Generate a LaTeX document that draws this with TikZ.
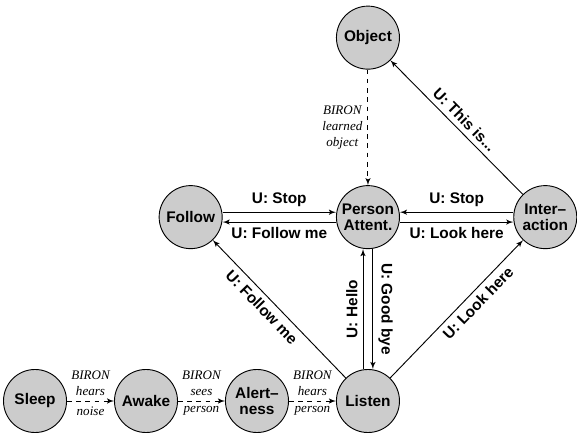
\documentclass[tikz,border=0pt]{standalone}
\usepackage{fontspec}
\setsansfont{Liberation Sans}
\newfontfamily\eventfont{Liberation Serif}
\usetikzlibrary{arrows, positioning}

\begin{document}
\begin{tikzpicture}[->, >=latex', auto, semithick, node distance=2.535cm]
        \tikzstyle{state}=[circle, fill=black!20, draw=black, text=black, minimum size=1.44cm, inner sep=0pt, align=center, font=\sffamily\bfseries\fontsize{10}{10}\selectfont]
        \tikzstyle{said}=[font=\sffamily\bfseries\fontsize{10}{12}\selectfont]
        \tikzstyle{event}=[font=\eventfont\itshape\fontsize{8.5}{10.5}\selectfont, align=center]

        \useasboundingbox (-0.8,-0.78) rectangle (12.38,9.16);

        \node[state]    (S)                     {Sleep};
        \node[state]    (A) [right of=S] {Awake};
        \node[state]    (N) [right of=A] {Alert--\\ness};
        \node[state]    (L) [right of=N] {Listen};
        \node[state]    (P) [above of=L, node distance=4.2cm] {Person\\Attent.};
        \node[state]    (F) [left of=P, node distance=4.05cm] {Follow};
        \node[state]    (I) [right of=P, node distance=4.05cm] {Inter--\\action};
        \node[state]    (O) [above of=P, node distance=4.1cm] {Object};

        \path[dashed] (S) edge node[event, above] {BIRON\\hears} node[event, below] {noise} (A)
                  (A) edge node[event, above] {BIRON\\sees} node[event, below] {person} (N)
                  (N) edge node[event, above] {BIRON\\hears} node[event, below] {person} (L)
                  (O) edge node[event, left] {BIRON\\learned\\object} (P);

        \path ([yshift=3.2pt]F.east) edge node[said, above] {U: Stop} ([yshift=3.2pt]P.west)
                  ([yshift=-3.2pt]P.west) edge node[said, below] {U: Follow me} ([yshift=-3.2pt]F.east)
                  ([yshift=3.2pt]I.west) edge node[said, above] {U: Stop} ([yshift=3.2pt]P.east)
                  ([yshift=-3.2pt]P.east) edge node[said, below] {U: Look here} ([yshift=-3.2pt]I.west)
                  ([xshift=-3.2pt]L.north) edge node[said, sloped, above] {U: Hello} ([xshift=-3.2pt]P.south)
                  ([xshift=3.2pt]P.south) edge node[said, sloped, above] {U: Good bye} ([xshift=3.2pt]L.north)
                  (L) edge node[said, sloped, below, pos=0.57] {U: Follow me} (F) % back to following
                  (L) edge node[said, sloped, below, pos=0.6] {U: Look here} (I)
                  (I) edge node[said, sloped, above] {U: This is...} (O);
    \end{tikzpicture}
\end{document}
